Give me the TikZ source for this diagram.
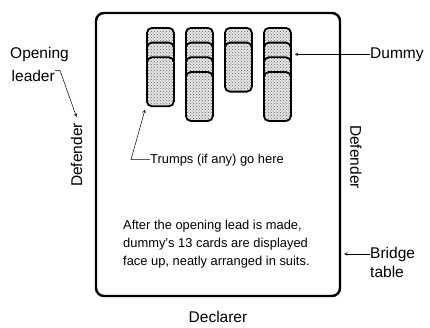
\documentclass[tikz,border=0pt]{standalone}
\usepackage{fontspec}
\setmainfont{Liberation Sans}
\usetikzlibrary{arrows,patterns,positioning,calc}

\tikzset{
  card/.style={draw, line width=1.8pt, rounded corners=5pt, preaction={fill=black!10},
    pattern=crosshatch dots, pattern color=black!60,
    minimum width=27pt, minimum height=49pt, anchor=north west, inner sep=0pt},
  lbl/.style={font=\fontsize{15.5}{19}\selectfont, inner sep=0pt},
  txt/.style={font=\fontsize{12.9}{18}\selectfont, inner sep=0pt},
  pointer/.style={line width=0.5pt, -stealth},
}

\begin{document}
\begin{tikzpicture}[x=1pt,y=-1pt]
\useasboundingbox (0,0) rectangle (430,327);
% table
\node[draw, line width=2.4pt, rounded corners=8pt, minimum width=244pt, minimum height=283pt] (table) at (218,154.5) {};
% dummy's hand, one column per suit
\foreach \col/\n [count=\i] in {146/3,185/4,224/2,263/4}
  \foreach \k in {1,...,\n}
    \node[card] (c\i-\k) at (\col,{27+(\k-1)*14.7}) {};
% players
\node[lbl, rotate=90] (defL) at (76.5,155) {Defender};
\node[lbl, rotate=-90] (defR) at (356,157) {Defender};
\node[lbl, anchor=base] (decl) at (218,322) {Declarer};
% labels
\node[lbl, anchor=base west] (open) at (10,58) {Opening};
\node[lbl, anchor=base west] (leader) at (11.5,81) {leader};
\node[lbl, anchor=base west] (dummy) at (370,58) {Dummy};
\node[lbl, anchor=base west] (bridge) at (370,258) {Bridge};
\node[lbl, anchor=base west] (tbl) at (370,277) {table};
\node[txt, anchor=base west] (trumps) at (150,163) {Trumps (if any) go here};
\node[txt, anchor=north west, align=left] (note) at (123,220)
  {After the opening lead is made,\\dummy's 13 cards are displayed\\face up, neatly arranged in suits.};
% pointers
\draw[pointer] ([yshift=5pt]leader.east) -- ++(5,0) -- ([yshift=6pt]defL.east);
\draw[pointer] (dummy.west) -- ([xshift=3pt]c4-2.east |- dummy.west);
\draw[pointer] (bridge.west) -- ([xshift=3pt]table.east |- bridge.west);
\draw[pointer] (trumps.west) -- ++(-19,0) -- ([xshift=-1pt,yshift=-2.5pt]c1-3.south west);
\end{tikzpicture}
\end{document}
